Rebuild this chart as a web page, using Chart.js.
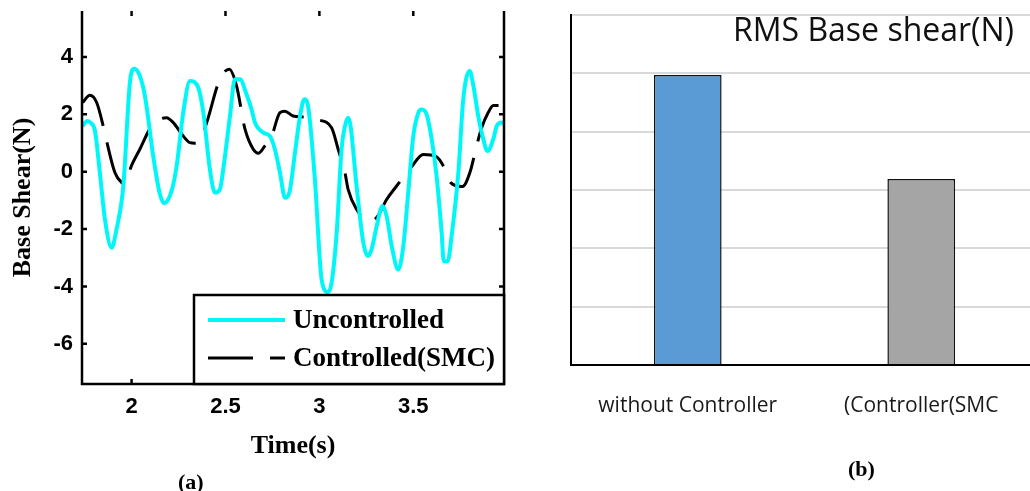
<!DOCTYPE html>
<html>
<head>
<meta charset="utf-8">
<script src="https://cdn.jsdelivr.net/npm/chart.js@4.4.1/dist/chart.umd.min.js"></script>
<style>
  html, body { margin: 0; padding: 0; background: #fff; overflow: hidden; width: 1030px; height: 491px; }
  .box { position: absolute; top: 0; height: 491px; }
  .cap { position: absolute; font: bold 22px "Liberation Serif", serif; color: #000; }
</style>
</head>
<body>
<div class="box" style="left:0;width:520px"><canvas id="chartA"></canvas></div>
<div class="box" style="left:560px;width:480px"><canvas id="chartB"></canvas></div>
<div class="cap" style="left:178px;top:469px">(a)</div>
<div class="cap" style="left:848px;top:456px">(b)</div>
<script>
// (a) time history of base shear
const timeU = [1.739,1.764,1.783,1.805,1.831,1.858,1.894,1.92,1.956,1.991,2.014,2.044,2.071,2.115,2.151,2.174,2.213,2.24,2.275,2.311,2.355,2.382,2.417,2.444,2.47,2.488,2.524,2.55,2.577,2.612,2.639,2.657,2.701,2.737,2.763,2.79,2.817,2.84,2.87,2.897,2.92,2.941,2.976,3.012,3.046,3.065,3.092,3.118,3.136,3.154,3.166,3.198,3.234,3.258,3.278,3.305,3.336,3.358,3.385,3.42,3.447,3.473,3.5,3.527,3.545,3.571,3.598,3.624,3.651,3.662,3.683,3.704,3.74,3.766,3.8,3.82,3.846,3.873,3.895,3.926,3.944,3.97,3.985];
const uncontrolled = [1.59,1.77,1.7,1.42,-0.03,-1.66,-2.65,-2.0,-0.5,3.1,3.59,3.34,2.64,0.55,-0.79,-1.1,-0.67,0.2,2.06,3.16,2.93,2.06,0.08,-0.73,-0.62,0.08,1.94,3.22,3.22,2.7,2.17,1.71,1.36,1.24,0.78,-0.03,-0.91,-0.73,0.66,1.94,2.52,2.23,-0.27,-3.76,-4.2,-3.87,-2.13,0.78,1.59,1.88,1.59,-0.5,-2.48,-2.94,-2.71,-1.9,-1.2,-1.55,-2.59,-3.41,-2.59,-0.73,1.24,2.06,2.17,2.0,1.13,-0.15,-2.13,-3.12,-3.12,-2.24,-0.03,2.52,3.51,2.99,1.94,1.13,0.72,1.13,1.59,1.71,1.65];

const timeC = [1.739,1.778,1.814,1.849,1.867,1.911,1.947,1.964,1.999,2.044,2.107,2.186,2.222,2.275,2.311,2.337,2.364,2.4,2.47,2.52,2.559,2.604,2.648,2.675,2.71,2.746,2.79,2.816,2.86,2.905,2.967,2.988,3.065,3.1,3.136,3.153,3.198,3.26,3.305,3.358,3.411,3.491,3.553,3.624,3.66,3.699,3.762,3.801,3.837,3.864,3.899,3.926,3.985];
const controlled = [2.41,2.66,2.41,1.59,1.07,-0.03,-0.38,-0.42,0.2,0.78,1.59,1.88,1.71,1.24,1.01,0.99,1.07,1.71,3.22,3.57,2.99,1.48,0.78,0.64,0.9,1.24,2.06,2.11,1.94,1.91,1.88,1.82,1.53,0.78,-0.03,-0.62,-1.31,-1.72,-1.6,-0.97,-0.5,0.17,0.6,0.52,0.2,-0.38,-0.52,-0.04,0.89,1.53,2.06,2.31,2.31];

const xTicks = [2, 2.5, 3, 3.5];
const yTicks = [-6, -4, -2, 0, 2, 4];
const seriesNames = ["Uncontrolled", "Controlled(SMC)"];

// (b) RMS values
const barLabels = ["without Controller", "(Controller(SMC"];
const rmsValues = [2.485, 1.595];
const barColors = ["#5b9bd5", "#a5a5a5"];

const tickFont = { family: "Liberation Sans", size: 22, weight: "bold" };
const serifBold = { family: "Liberation Serif", size: 26, weight: "bold" };

// frame, inward ticks and boxed legend, matlab style
const matlabFrame = {
  id: "matlabFrame",
  afterDatasetsDraw(chart) {
    const { ctx, chartArea: a, scales } = chart;
    ctx.save();
    ctx.strokeStyle = "#000";
    ctx.lineWidth = 2.5;
    ctx.beginPath();
    ctx.moveTo(a.left, a.top); ctx.lineTo(a.left, a.bottom);
    ctx.lineTo(a.right, a.bottom); ctx.lineTo(a.right, a.top);
    ctx.stroke();
    const tl = 5;
    ctx.beginPath();
    scales.x.ticks.forEach(t => {
      const px = scales.x.getPixelForValue(t.value);
      ctx.moveTo(px, a.bottom); ctx.lineTo(px, a.bottom - tl);
      ctx.moveTo(px, a.top); ctx.lineTo(px, a.top + tl);
    });
    scales.y.ticks.forEach(t => {
      const py = scales.y.getPixelForValue(t.value);
      ctx.moveTo(a.left, py); ctx.lineTo(a.left + tl, py);
      ctx.moveTo(a.right, py); ctx.lineTo(a.right - tl, py);
    });
    ctx.stroke();

    // legend box
    const bx = a.right - 310, by = a.bottom - 89;
    ctx.fillStyle = "#fff";
    ctx.fillRect(bx, by, 310, 89);
    ctx.lineWidth = 2.5;
    ctx.strokeRect(bx, by, 310, 89);
    ctx.font = "bold 27px 'Liberation Serif'";
    ctx.textBaseline = "middle";
    chart.data.datasets.forEach((ds, i) => {
      const y = by + 25 + i * 38;
      ctx.strokeStyle = ds.borderColor;
      ctx.lineWidth = ds.borderWidth;
      ctx.setLineDash(ds.borderDash || []);
      ctx.beginPath();
      ctx.moveTo(bx + 14, y); ctx.lineTo(bx + 91, y);
      ctx.stroke();
      ctx.setLineDash([]);
      ctx.fillStyle = "#000";
      ctx.fillText(ds.label, bx + 99, y + 1);
    });
    ctx.restore();
  }
};

new Chart(document.getElementById("chartA"), {
  type: "line",
  data: {
    datasets: [
      {
        label: seriesNames[0],
        data: timeU.map((t, i) => ({ x: t, y: uncontrolled[i] })),
        borderColor: "#00f7f7",
        borderWidth: 4,
        pointRadius: 0,
        cubicInterpolationMode: "monotone"
      },
      {
        label: seriesNames[1],
        data: timeC.map((t, i) => ({ x: t, y: controlled[i] })),
        borderColor: "#000",
        borderWidth: 3,
        borderDash: [45, 17],
        pointRadius: 0,
        cubicInterpolationMode: "monotone"
      }
    ]
  },
  options: {
    responsive: true,
    maintainAspectRatio: false,
    animation: false,
    layout: { padding: { left: 0, right: 16, top: 11, bottom: 29 } },
    plugins: { legend: { display: false }, tooltip: { enabled: false } },
    scales: {
      x: {
        type: "linear",
        min: 1.736,
        max: 3.983,
        afterBuildTicks: s => { s.ticks = xTicks.map(v => ({ value: v })); },
        afterFit: s => { s.height = 78; s.paddingLeft = 0; s.paddingRight = 0; },
        grid: { display: false, drawTicks: false },
        border: { display: false },
        ticks: { font: tickFont, color: "#000", padding: 10, maxRotation: 0, callback: v => String(v) },
        title: { display: true, text: "Time(s)", font: serifBold, color: "#000", padding: 0 }
      },
      y: {
        min: -7.4,
        max: 5.6,
        afterBuildTicks: s => { s.ticks = yTicks.map(v => ({ value: v })); },
        afterFit: s => { s.width = 82; s.paddingTop = 0; s.paddingBottom = 0; },
        grid: { display: false, drawTicks: false },
        border: { display: false },
        ticks: { font: tickFont, color: "#000", padding: 9, callback: v => String(v) },
        title: { display: true, text: "Base Shear(N)", font: serifBold, color: "#000", padding: { top: 8, bottom: 0 } }
      }
    }
  },
  plugins: [matlabFrame]
});

// title drawn inside the plot area, like the excel chart
const innerTitle = {
  id: "innerTitle",
  afterDraw(chart) {
    const { ctx, chartArea: a } = chart;
    ctx.save();
    ctx.font = "32px 'Open Sans'";
    ctx.fillStyle = "#111";
    ctx.textBaseline = "middle";
    ctx.fillText("RMS Base shear(N)", a.left + 162, a.top + 17);
    ctx.restore();
  }
};

new Chart(document.getElementById("chartB"), {
  type: "bar",
  data: {
    labels: barLabels,
    datasets: [{
      data: rmsValues,
      backgroundColor: barColors,
      borderColor: "#111",
      borderWidth: 1.5,
      categoryPercentage: 1,
      barPercentage: 0.29
    }]
  },
  options: {
    responsive: true,
    maintainAspectRatio: false,
    animation: false,
    layout: { padding: { left: 11, right: 2, top: 15, bottom: 66 } },
    plugins: { legend: { display: false }, tooltip: { enabled: false } },
    scales: {
      x: {
        grid: { display: false, drawTicks: false },
        border: { color: "#000", width: 2 },
        afterFit: s => { s.height = 60; s.paddingLeft = 0; s.paddingRight = 0; },
        ticks: { font: { family: "Open Sans", size: 21 }, color: "#1a1a1a", padding: 28 }
      },
      y: {
        min: 0,
        max: 3,
        afterFit: s => { s.width = 0; s.paddingTop = 0; s.paddingBottom = 0; },
        grid: { color: "#d9d9d9", lineWidth: 2, drawTicks: false },
        border: { color: "#000", width: 2 },
        ticks: { display: false, stepSize: 0.5 }
      }
    }
  },
  plugins: [innerTitle]
});
</script>
</body>
</html>
